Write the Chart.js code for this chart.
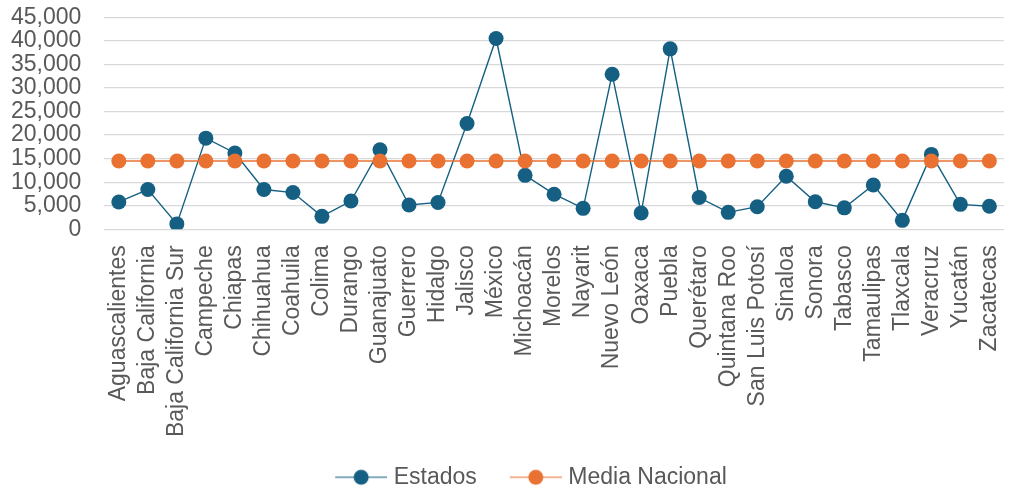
<!DOCTYPE html>
<html><head><meta charset="utf-8">
<script src="https://cdn.jsdelivr.net/npm/chart.js@4"></script>
<style>html,body{margin:0;padding:0;background:#fff;overflow:hidden}#wrap{width:1026px;height:490px;overflow:hidden}</style>
</head><body><div id="wrap"><canvas id="c" width="1033" height="500"></canvas></div>
<script>
const categories = ["Aguascalientes","Baja California","Baja California Sur","Campeche","Chiapas","Chihuahua","Coahuila","Colima","Durango","Guanajuato","Guerrero","Hidalgo","Jalisco","México","Michoacán","Morelos","Nayarit","Nuevo León","Oaxaca","Puebla","Querétaro","Quintana Roo","San Luis Potosí","Sinaloa","Sonora","Tabasco","Tamaulipas","Tlaxcala","Veracruz","Yucatán","Zacatecas"];
const estados = [5800,8450,1150,19350,16200,8450,7800,2750,6000,16900,5150,5700,22450,40500,11450,7450,4450,32900,3450,38300,6750,3600,4800,11250,5850,4550,9400,1900,15900,5300,4900];
const mediaNacional = [14500,14500,14500,14500,14500,14500,14500,14500,14500,14500,14500,14500,14500,14500,14500,14500,14500,14500,14500,14500,14500,14500,14500,14500,14500,14500,14500,14500,14500,14500,14500];
const yMax = 45000;
const yStep = 5000;
const seriesNames = ["Estados","Media Nacional"];
const seriesColors = ["#156082","#E97132"];

const FONT = "'Liberation Sans', Arial, sans-serif";
const TXT = "#595959";

function legendImg(color){
  const c = document.createElement('canvas');
  c.width = 80; c.height = 18;
  const g = c.getContext('2d');
  g.strokeStyle = color; g.globalAlpha = 0.7; g.lineWidth = 1.5;
  g.beginPath(); g.moveTo(28, 9); g.lineTo(80, 9); g.stroke();
  g.globalAlpha = 1; g.fillStyle = color;
  g.beginPath(); g.arc(54, 9, 7.5, 0, Math.PI*2); g.fill();
  return c;
}
const imgs = seriesColors.map(legendImg);

const legendShift = {
  id: 'legendShift',
  afterLayout(chart) {
    if (chart.legend) { chart.legend.left += 3; chart.legend.right += 3; }
  }
};

new Chart(document.getElementById('c'), {
  type: 'line',
  data: {
    labels: categories,
    datasets: [
      {label: seriesNames[0], data: estados, borderColor: seriesColors[0], backgroundColor: seriesColors[0],
       borderWidth: 1.4, pointRadius: 7.5, pointBorderWidth: 0, pointHoverRadius: 7.5, order: 2, tension: 0},
      {label: seriesNames[1], data: mediaNacional, borderColor: seriesColors[1], backgroundColor: seriesColors[1],
       borderWidth: 1.5, pointRadius: 7.5, pointBorderWidth: 0, pointHoverRadius: 7.5, order: 1, tension: 0}
    ]
  },
  plugins: [legendShift],
  options: {
    responsive: false,
    animation: false,
    layout: {autoPadding: false, padding: {top: 17.3, left: 0, right: 0, bottom: 1.3}},
    plugins: {
      tooltip: {enabled: false},
      legend: {
        position: 'bottom',
        labels: {
          usePointStyle: true,
          pointStyleWidth: 70,
          padding: 10,
          color: TXT,
          font: {family: FONT, size: 23},
          generateLabels: (chart) => seriesNames.map((n, i) => ({
            text: n, pointStyle: imgs[i], fillStyle: seriesColors[i], strokeStyle: seriesColors[i],
            lineWidth: 0, hidden: false, datasetIndex: i, fontColor: TXT
          }))
        }
      }
    },
    scales: {
      x: {
        offset: true,
        grid: {display: false, drawTicks: false},
        border: {display: false},
        ticks: {color: TXT, font: {family: FONT, size: 23}, minRotation: 90, maxRotation: 90, padding: 16, autoSkip: false},
        afterFit: (s) => { s.height = 226.4; s.paddingTop = 0; s.paddingBottom = 0; }
      },
      y: {
        min: 0, max: yMax,
        grid: {color: '#D9D9D9', lineWidth: 1.3, drawTicks: false},
        border: {display: false},
        ticks: {stepSize: yStep, autoSkip: false, color: TXT, font: {family: FONT, size: 23}, padding: 23,
          callback: (v) => v.toLocaleString('en-US')},
        afterFit: (s) => { s.width = 104.3; s.paddingTop = 0; s.paddingBottom = 0; }
      }
    }
  }
});
</script>
</body></html>
